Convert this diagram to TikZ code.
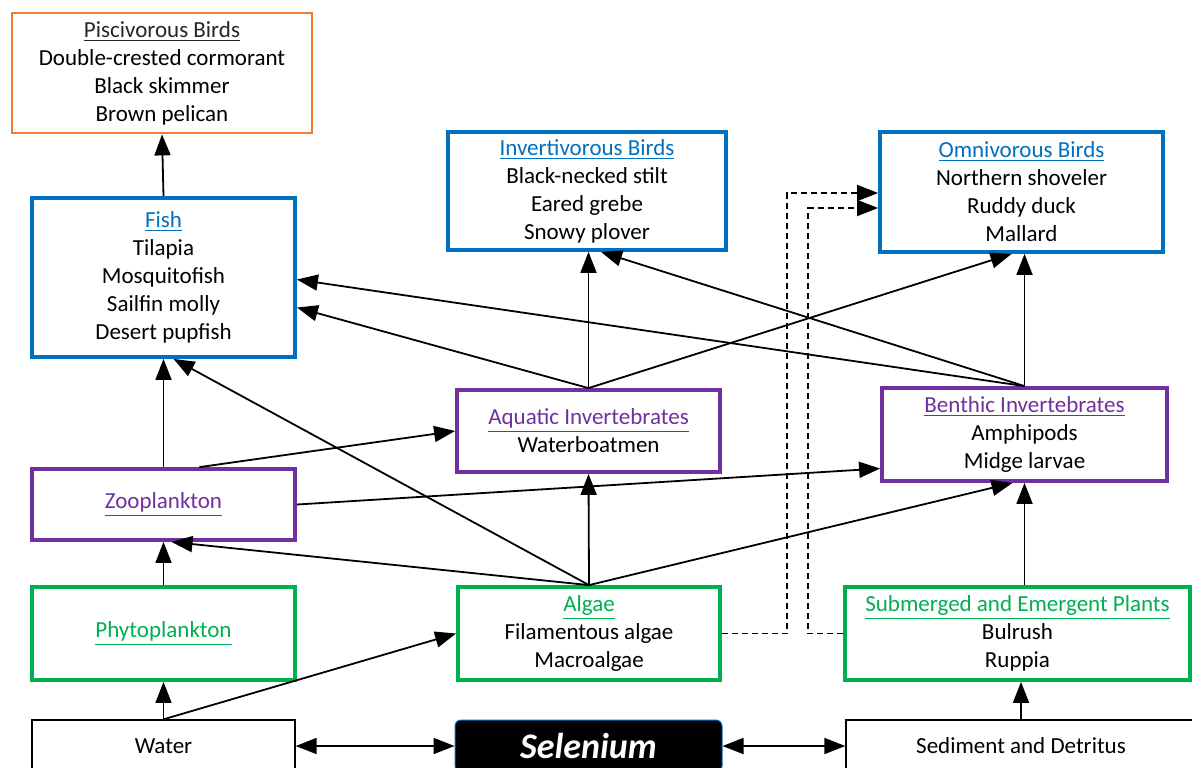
\documentclass[tikz,border=0pt]{standalone}
\usepackage{fontspec}
\setmainfont{Carlito}
\usepackage{xcolor}
\usetikzlibrary{arrows.meta}
\definecolor{boxorange}{RGB}{237,125,49}
\definecolor{boxblue}{RGB}{0,112,192}
\definecolor{boxpurple}{RGB}{112,48,160}
\definecolor{boxgreen}{RGB}{0,176,80}
\newcommand{\hd}[2]{\textcolor{#1}{\underline{#2}}}

\begin{document}
\begin{tikzpicture}[x=0.5pt,y=-0.5pt]
\tikzset{mybox/.style={draw, rectangle, fill=white, align=center, inner sep=0pt, font=\fontsize{11.5}{14}\selectfont}}
\tikzset{myorangestyle/.style={mybox, draw=boxorange, line width=1.4pt}}
\tikzset{mybluestyle/.style={mybox, draw=boxblue, line width=1.9pt}}
\tikzset{mypurplestyle/.style={mybox, draw=boxpurple, line width=1.9pt}}
\tikzset{mygreenstyle/.style={mybox, draw=boxgreen, line width=1.9pt}}
\tikzset{myplainstyle/.style={mybox, draw=black, line width=0.7pt}}

\useasboundingbox (0,0) rectangle (1192,767);

\tikzstyle{myedgestyle} = [line width=0.9pt, -{Triangle[length=10.5pt,width=8pt]}]
\tikzstyle{mydashstyle} = [line width=0.7pt, dash pattern=on 3pt off 2pt]

\node[myorangestyle, minimum width=150pt, minimum height=60pt] (pisc) at (162,73) {\hd{black!85}{Piscivorous Birds}\\Double-crested cormorant\\Black skimmer\\Brown pelican};
\node[mybluestyle, minimum width=131.5pt, minimum height=79.5pt] (fish) at (163.5,277.5) {\hd{boxblue}{Fish}\\Tilapia\\Mosquitofish\\Sailfin molly\\Desert pupfish};
\node[mybluestyle, minimum width=139pt, minimum height=59pt] (invb) at (587,191) {\hd{boxblue}{Invertivorous Birds}\\Black-necked stilt\\Eared grebe\\Snowy plover};
\node[mybluestyle, minimum width=141.5pt, minimum height=60pt] (omnb) at (1021.5,192) {\hd{boxblue}{Omnivorous Birds}\\Northern shoveler\\Ruddy duck\\Mallard};
\node[mypurplestyle, minimum width=131.5pt, minimum height=41pt] (aqua) at (588.5,431) {\hd{boxpurple}{Aquatic Invertebrates}\\Waterboatmen};
\node[mypurplestyle, minimum width=142.5pt, minimum height=46.5pt] (bent) at (1024.5,434.5) {\hd{boxpurple}{Benthic Invertebrates}\\Amphipods\\Midge larvae};
\node[mypurplestyle, minimum width=131.5pt, minimum height=35.5pt] (zoo) at (163.5,504.5) {\hd{boxpurple}{Zooplankton}};
\node[mygreenstyle, minimum width=131.5pt, minimum height=46.5pt] (phyto) at (163.5,633.5) {\hd{boxgreen}{Phytoplankton}};
\node[mygreenstyle, minimum width=131pt, minimum height=46.5pt] (algae) at (589,633.5) {\hd{boxgreen}{Algae}\\Filamentous algae\\Macroalgae};
\node[mygreenstyle, minimum width=172.5pt, minimum height=46.5pt] (subm) at (1017.5,633.5) {\hd{boxgreen}{Submerged and Emergent Plants}\\Bulrush\\Ruppia};
\node[myplainstyle, minimum width=131.5pt, minimum height=26pt] (water) at (163.5,746) {Water};
\node[draw=boxblue, line width=0.5pt, fill=black, rounded corners=3pt, text=white, minimum width=133.5pt, minimum height=26pt, inner sep=0pt, font=\fontsize{18}{20}\selectfont\bfseries\itshape] (selen) at (588.5,746) {Selenium};
\node[myplainstyle, minimum width=175pt, minimum height=26pt] (sedim) at (1021,746) {Sediment and Detritus};

% food web links
\draw [myedgestyle] (fish.north) -- (pisc.south);
\draw [myedgestyle] (aqua.north) -- ([yshift=-15pt]fish.east);
\draw [myedgestyle] (bent.north) -- ([yshift=-1pt]fish.east);
\draw [myedgestyle] (aqua.north) -- (aqua.north |- invb.south);
\draw [myedgestyle] (aqua.north) -- ([xshift=-5pt]omnb.south);
\draw [myedgestyle] (bent.north) -- ([xshift=7pt]invb.south);
\draw [myedgestyle] (bent.north) -- (bent.north |- omnb.south);
\draw [myedgestyle] (zoo.north) -- (zoo.north |- fish.south);
\draw [myedgestyle] ([xshift=18pt]zoo.north) -- (aqua.west);
\draw [myedgestyle] (zoo.east) -- ([yshift=-17pt]bent.west);
\draw [myedgestyle] (algae.north) -- ([xshift=5pt]fish.south);
\draw [myedgestyle] (algae.north) -- ([xshift=4pt]zoo.south);
\draw [myedgestyle] (algae.north) -- (aqua.south);
\draw [myedgestyle] (algae.north) -- ([xshift=-6pt]bent.south);
\draw [myedgestyle] (bent.south |- subm.north) -- (bent.south);
\draw [myedgestyle] (phyto.north) -- (zoo.south);
\draw [myedgestyle] (water.north) -- (phyto.south);
\draw [myedgestyle] (water.north) -- (algae.west);
\draw [myedgestyle] (sedim.north) -- (sedim.north |- subm.south);

% dashed links to omnivorous birds
\draw [mydashstyle, myedgestyle] (algae.east) -- ++(65,0) |- ([yshift=-0.5pt]omnb.west);
\draw [mydashstyle, myedgestyle] (subm.west) -- ++(-35,0) |- ([yshift=-8pt]omnb.west);

% exchange with selenium
\draw [myedgestyle, {Triangle[length=10.5pt,width=8pt]}-{Triangle[length=10.5pt,width=8pt]}] (water.east) -- (selen.west);
\draw [myedgestyle, {Triangle[length=10.5pt,width=8pt]}-{Triangle[length=10.5pt,width=8pt]}] (selen.east) -- (sedim.west);
\end{tikzpicture}
\end{document}
